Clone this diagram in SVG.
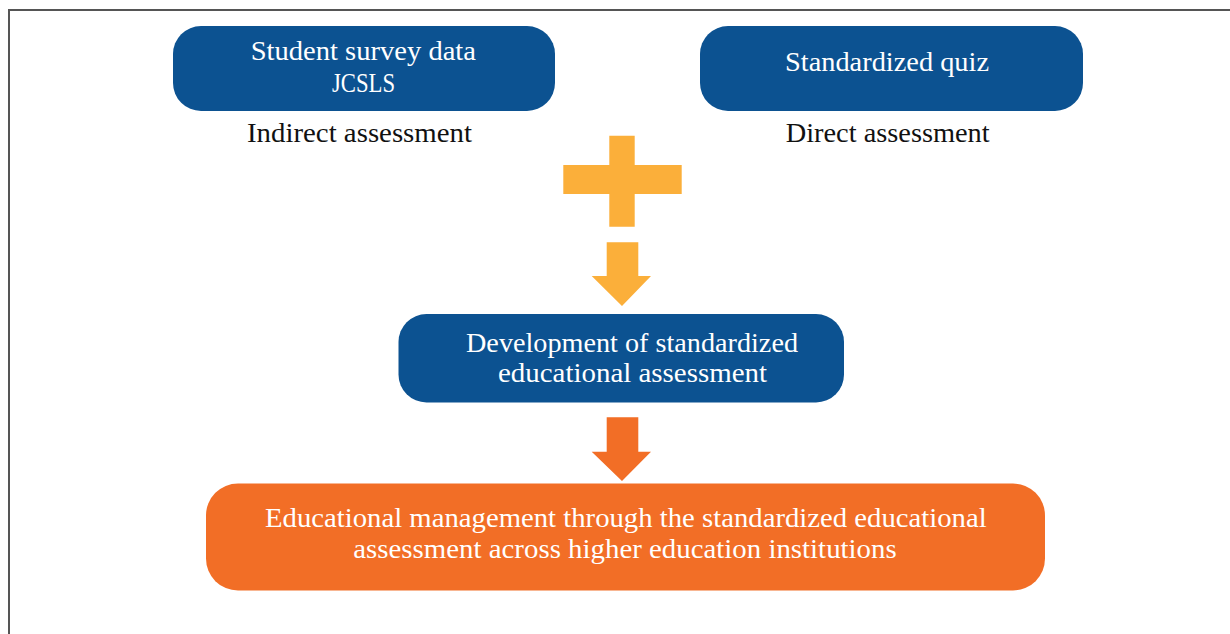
<svg xmlns="http://www.w3.org/2000/svg" width="1230" height="634" viewBox="0 0 1230 634">
<style>
.blue{fill:#0C5291;}
.orange{fill:#F26E26;}
.yellow{fill:#FBAF3A;}
text{font-family:"Liberation Serif","DejaVu Serif",serif;font-size:27px;}
.w{fill:#FFFFFF;}
.k{fill:#111111;font-size:26.5px;}
</style>
<rect width="1230" height="634" fill="#FFFFFF"/>
<path d="M9,634 V10 H1230" fill="none" stroke="#555555" stroke-width="2"/>
<g id="node-survey">
<rect class="blue" x="173" y="26" width="382" height="85" rx="28"/>
<text class="w" x="250.7" y="60" textLength="225.3" lengthAdjust="spacingAndGlyphs">Student survey data</text>
<text class="w" x="332" y="92" textLength="63" lengthAdjust="spacingAndGlyphs">JCSLS</text>
</g>
<g id="label-indirect">
<text class="k" x="247" y="142" textLength="225" lengthAdjust="spacingAndGlyphs">Indirect assessment</text>
</g>
<g id="node-quiz">
<rect class="blue" x="700" y="26" width="383" height="85" rx="28"/>
<text class="w" x="785" y="70.5" textLength="204" lengthAdjust="spacingAndGlyphs">Standardized quiz</text>
</g>
<g id="label-direct">
<text class="k" x="785.7" y="142" textLength="204" lengthAdjust="spacingAndGlyphs">Direct assessment</text>
</g>
<g id="plus">
<polygon class="yellow" points="609.3,135.7 634.7,135.7 634.7,165 681.7,165 681.7,194 634.7,194 634.7,226.7 609.3,226.7 609.3,194 563.3,194 563.3,165 609.3,165"/>
</g>
<g id="node-development">
<rect class="blue" x="398.5" y="314" width="445.5" height="88.5" rx="28"/>
<text class="w" x="466" y="351.7" textLength="332" lengthAdjust="spacingAndGlyphs">Development of standardized</text>
<text class="w" x="498" y="381.7" textLength="269" lengthAdjust="spacingAndGlyphs">educational assessment</text>
</g>
<g id="node-management">
<rect class="orange" x="206" y="483.5" width="839" height="107" rx="32"/>
<text class="w" x="265" y="526.7" textLength="721.7" lengthAdjust="spacingAndGlyphs">Educational management through the standardized educational</text>
<text class="w" x="353.3" y="558.3" textLength="543.4" lengthAdjust="spacingAndGlyphs">assessment across higher education institutions</text>
</g>
<g id="connectors">
<polygon class="yellow" points="606.7,242.3 638.3,242.3 638.3,276 651,276 622,306 591.7,276 606.7,276"/>
<polygon class="orange" points="606.7,417.3 638.3,417.3 638.3,451.7 651,451.7 622,481 591.7,451.7 606.7,451.7"/>
</g>
</svg>
